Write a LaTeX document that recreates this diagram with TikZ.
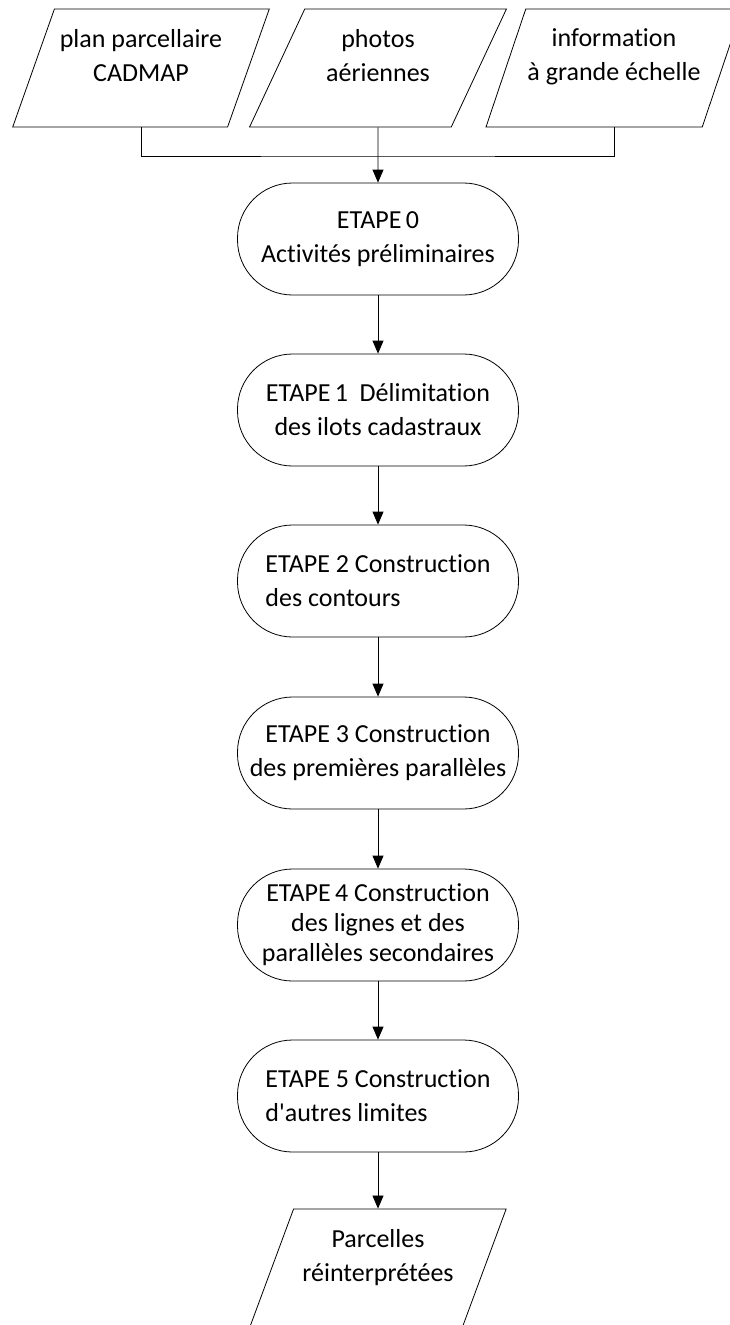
\documentclass[tikz,border=0pt]{standalone}
\usepackage{fontspec}
\setmainfont{Carlito}[Ligatures=NoCommon]
\usetikzlibrary{shapes.geometric,arrows.meta}

\begin{document}
\begin{tikzpicture}[x=1pt, y=-1pt, line width=0.8pt,
        font=\fontsize{26}{34}\selectfont,
        donnee/.style={draw, trapezium, trapezium left angle=63.4, trapezium right angle=116.6,
            trapezium stretches=true, minimum width=257pt, minimum height=118pt,
            inner sep=0pt, align=center},
        etape/.style={draw, rectangle, rounded corners=55pt, minimum width=281pt,
            minimum height=112pt, inner sep=0pt, align=center},
        fleche/.style={-{Triangle[width=11pt,length=13pt]}}]
    \useasboundingbox (0,0) rectangle (730,1325);

    % donnees en entree
    \node[donnee] (plan)   at (141,68) {plan parcellaire\\CADMAP\\[-8pt]~};
    \node[donnee] (photos) at (378,68) {photos\\a\'eriennes\\[-8pt]~};
    \node[donnee] (info)   at (614,68) {information\\\`a grande \'echelle\\[-8pt]~};
    \coordinate (joint) at (378,156);

    % les etapes
    \node[etape] (e0) at (378,239)  {ETAPE\,0\\Activit\'es pr\'eliminaires};
    \node[etape] (e1) at (378,410)  {ETAPE\,1~~D\'elimitation\\des ilots cadastraux};
    \node[etape, align=left] (e2) at (378,581) {ETAPE 2 Construction\\des contours};
    \node[etape] (e3) at (378,753)  {ETAPE 3 Construction\\des premi\`eres parall\`eles};
    \node[etape] (e4) at (378,925)  {ETAPE\,4 Construction\\[-4pt]des lignes et des\\[-4pt]parall\`eles secondaires};
    \node[etape, align=left] (e5) at (378,1096) {ETAPE 5 Construction\\d\textquotesingle autres limites};

    % resultat
    \node[donnee] (sortie) at (378,1268) {Parcelles\\r\'einterpr\'et\'ees\\[-8pt]~};

    % liaisons
    \draw (plan |- plan.south) |- (joint) -| (info |- info.south);
    \draw[fleche] (photos) -- (e0);
    \foreach \a/\b in {e0/e1, e1/e2, e2/e3, e3/e4, e4/e5, e5/sortie}
        \draw[fleche] (\a) -- (\b);
\end{tikzpicture}
\end{document}
